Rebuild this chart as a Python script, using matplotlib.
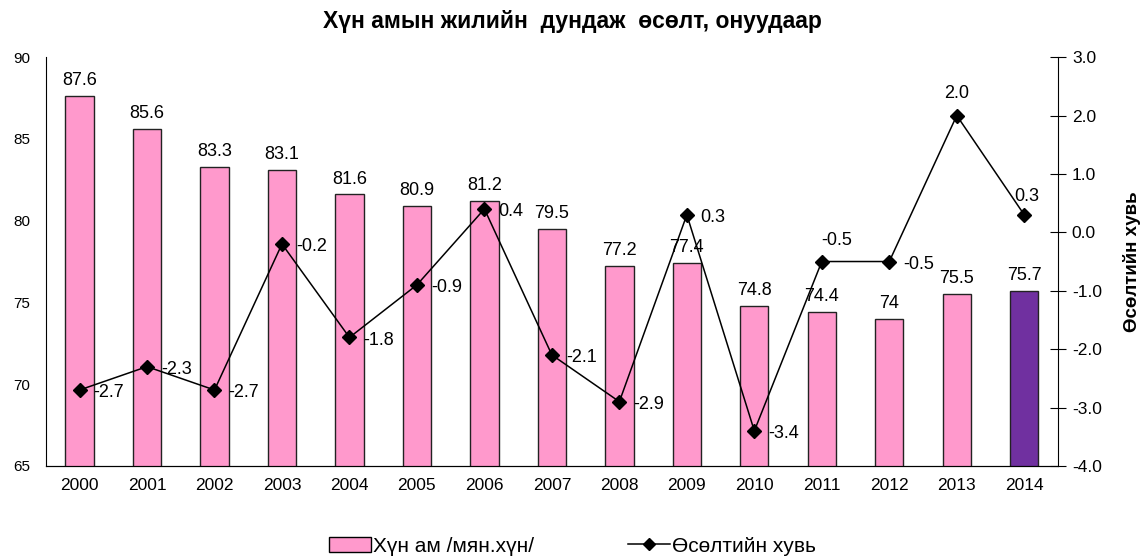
import matplotlib.pyplot as plt
from matplotlib.lines import Line2D
from matplotlib.patches import Patch

plt.rcParams['font.family'] = ['Liberation Sans', 'DejaVu Sans']

# ── Data ──────────────────────────────────────────────────────────────────────
years = ['2000', '2001', '2002', '2003', '2004', '2005', '2006', '2007',
         '2008', '2009', '2010', '2011', '2012', '2013', '2014']
population = [87.6, 85.6, 83.3, 83.1, 81.6, 80.9, 81.2, 79.5,
              77.2, 77.4, 74.8, 74.4, 74, 75.5, 75.7]
growth = [-2.7, -2.3, -2.7, -0.2, -1.8, -0.9, 0.4, -2.1,
          -2.9, 0.3, -3.4, -0.5, -0.5, 2.0, 0.3]
pop_labels = ['87.6', '85.6', '83.3', '83.1', '81.6', '80.9', '81.2', '79.5',
              '77.2', '77.4', '74.8', '74.4', '74', '75.5', '75.7']

fig = plt.figure(figsize=(11.45, 5.6), dpi=100)
ax = fig.add_axes([0.040, 0.168, 0.884, 0.730])
ax2 = ax.twinx()

x = list(range(len(years)))
colors = ['#FF99CC'] * (len(years) - 1) + ['#7030A0']

# ── Bars ──────────────────────────────────────────────────────────────────────
ax.bar(x, population, width=0.42, color=colors, edgecolor='#222222',
       linewidth=1.0, zorder=2)
for xi, v, lab in zip(x, population, pop_labels):
    ax.annotate(lab, (xi, v), xytext=(0, 5), textcoords='offset points',
                ha='center', va='bottom', fontsize=13)

ax.set_ylim(65, 90)
ax.set_xlim(-0.5, 14.5)
ax.set_yticks([65, 70, 75, 80, 85, 90])
ax.set_xticks(x)
ax.set_xticklabels(years, fontsize=12.5)
ax.tick_params(axis='y', length=0, labelsize=11, pad=11)
ax.tick_params(axis='x', length=0, pad=9)
ax.spines['top'].set_visible(False)
ax.spines['right'].set_visible(False)

# ── Growth line ───────────────────────────────────────────────────────────────
ax2.plot(x, growth, color='black', linewidth=1.1, marker='D',
         markersize=7, zorder=3)
# label offsets (points): mostly right of the marker, some above
offsets = {11: (11, 9, 'center', 'bottom'),
           13: (0, 10, 'center', 'bottom'),
           14: (2, 7, 'center', 'bottom')}
for xi, g in zip(x, growth):
    dx, dy, ha, va = offsets.get(xi, (10, -2, 'left', 'center'))
    ax2.annotate(f'{g:.1f}', (xi, g), xytext=(dx, dy),
                 textcoords='offset points', ha=ha, va=va, fontsize=13)

ax2.set_ylim(-4.0, 3.0)
ax2.set_yticks([-4, -3, -2, -1, 0, 1, 2, 3])
ax2.set_yticklabels([f'{t:.1f}' for t in range(-4, 4)])
ax2.tick_params(axis='y', direction='inout', length=12, labelsize=12.5, pad=4)
ax2.set_ylabel('Өсөлтийн хувь', fontsize=13.5, fontweight='bold', labelpad=15)
ax2.spines['top'].set_visible(False)
ax2.spines['left'].set_visible(False)
ax2.set_zorder(ax.get_zorder() + 1)
ax2.patch.set_visible(False)

# ── Title & legend ────────────────────────────────────────────────────────────
fig.text(0.5, 0.962, 'Хүн амын жилийн  дундаж  өсөлт, онуудаар',
         ha='center', va='center', fontsize=16.5, fontweight='bold')

handles = [
    Patch(facecolor='#FF99CC', edgecolor='black', label='Хүн ам /мян.хүн/'),
    Line2D([0], [0], color='black', marker='D', markersize=6,
           linewidth=1.1, label='Өсөлтийн хувь'),
]
fig.legend(handles=handles, loc='center', bbox_to_anchor=(0.5, 0.025),
           ncol=2, frameon=False, fontsize=15, handlelength=2.0,
           handletextpad=0.1, columnspacing=4.5)

fig.savefig('out.png', dpi=100)
